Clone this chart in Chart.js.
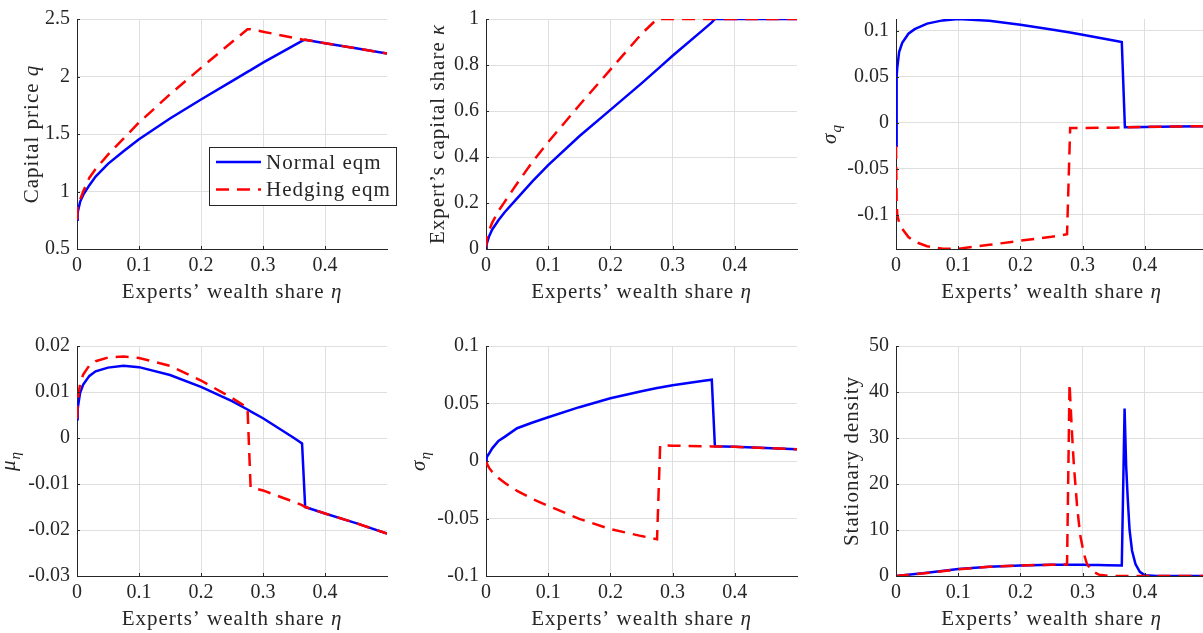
<!DOCTYPE html>
<html>
<head>
<meta charset="utf-8">
<script src="https://cdn.jsdelivr.net/npm/chart.js@4.4.0/dist/chart.umd.min.js"></script>
<style>
  html, body { margin: 0; padding: 0; background: #fff; overflow: hidden; }
  #wrap { position: relative; width: 1203px; height: 633px; overflow: hidden; }
  #wrap canvas { position: absolute; }
</style>
</head>
<body>
<div id="wrap"></div>
<script>
// Experts' wealth share grid (shared by the first five panels)
const eta = [0, 0.001, 0.002, 0.005, 0.01, 0.02, 0.03, 0.05, 0.075, 0.1, 0.15, 0.2, 0.25, 0.275, 0.28, 0.3, 0.35, 0.363, 0.368, 0.4, 0.45, 0.5];

// Capital price q
const qNormal  = [0.755, 0.81, 0.84, 0.91, 0.97, 1.055, 1.13, 1.24, 1.35, 1.455, 1.635, 1.8, 1.96, 2.04, 2.055, 2.12, 2.27, 2.31, 2.32, 2.29, 2.245, 2.2];
const qHedging = [0.755, 0.87, 0.89, 0.93, 1.0, 1.12, 1.195, 1.32, 1.46, 1.6, 1.845, 2.075, 2.3, 2.41, 2.41, 2.39, 2.335, 2.322, 2.32, 2.29, 2.245, 2.2];

// Expert's capital share kappa
const kappaNormal  = [0, 0.02, 0.03, 0.055, 0.085, 0.125, 0.16, 0.22, 0.295, 0.365, 0.49, 0.605, 0.72, 0.78, 0.792, 0.84, 0.955, 0.985, 1, 1, 1, 1];
const kappaHedging = [0, 0.04, 0.055, 0.08, 0.115, 0.165, 0.205, 0.285, 0.38, 0.465, 0.625, 0.78, 0.935, 1, 1, 1, 1, 1, 1, 1, 1, 1];

// sigma_q
const sigQNormal  = [-0.025, 0.05, 0.06, 0.077, 0.087, 0.097, 0.102, 0.108, 0.1115, 0.113, 0.111, 0.1068, 0.1015, 0.0988, 0.0983, 0.0958, 0.0897, 0.088, -0.0046, -0.0043, -0.0039, -0.0035];
const sigQHedging = [-0.025, -0.085, -0.1, -0.108, -0.115, -0.124, -0.129, -0.134, -0.1368, -0.1367, -0.1325, -0.128, -0.1237, -0.121, -0.0055, -0.0054, -0.0052, -0.005, -0.0046, -0.0043, -0.0039, -0.0035];

// mu_eta
const muNormal  = [0.0041, 0.0062, 0.0072, 0.0098, 0.0116, 0.0135, 0.0145, 0.0153, 0.0157, 0.0154, 0.0137, 0.0111, 0.008, 0.0062, 0.0058, 0.0043, 0.0, -0.0012, -0.015, -0.0164, -0.0185, -0.0208];
const muHedging = [0.0042, 0.0075, 0.009, 0.0118, 0.0138, 0.0158, 0.0167, 0.0175, 0.0177, 0.0174, 0.0157, 0.0125, 0.0087, 0.0066, -0.0107, -0.0114, -0.0139, -0.0146, -0.015, -0.0164, -0.0185, -0.0208];

// sigma_eta
const sigEtaNormal  = [0, 0.0025, 0.004, 0.0065, 0.011, 0.0175, 0.021, 0.0285, 0.0335, 0.038, 0.0468, 0.0545, 0.0607, 0.0634, 0.0639, 0.0658, 0.0697, 0.0707, 0.0128, 0.0123, 0.0113, 0.0102];
const sigEtaHedging = [0, -0.0015, -0.003, -0.006, -0.0095, -0.0148, -0.019, -0.026, -0.033, -0.039, -0.0503, -0.0592, -0.0653, -0.068, 0.0135, 0.0133, 0.0128, 0.0127, 0.0127, 0.0123, 0.0113, 0.0102];

// Stationary density (finer grid around the two spikes)
const etaDens = [0, 0.05, 0.1, 0.15, 0.2, 0.25, 0.275, 0.279, 0.283, 0.286, 0.291, 0.296, 0.302, 0.307, 0.315, 0.326, 0.34, 0.363, 0.3675, 0.37, 0.3725, 0.3755, 0.3795, 0.385, 0.392, 0.4, 0.42, 0.5];
const densNormal  = [0, 0.7, 1.5, 2.0, 2.3, 2.45, 2.45, 2.45, 2.44, 2.44, 2.43, 2.43, 2.42, 2.41, 2.4, 2.38, 2.35, 2.3, 36.4, 24, 17, 10, 5.5, 2.6, 0.9, 0.15, 0, 0];
const densHedging = [0, 0.65, 1.45, 2.0, 2.3, 2.45, 2.5, 41.8, 31, 24, 15.4, 9, 4.9, 2.6, 1.1, 0.3, 0.05, 0, 0, 0, 0, 0, 0, 0, 0, 0, 0, 0];

// Tick labels
const xTicks = [0, 0.1, 0.2, 0.3, 0.4];
const qTicks = [0.5, 1, 1.5, 2, 2.5];
const kappaTicks = [0, 0.2, 0.4, 0.6, 0.8, 1];
const sigQTicks = [-0.1, -0.05, 0, 0.05, 0.1];
const muTicks = [-0.03, -0.02, -0.01, 0, 0.01, 0.02];
const sigEtaTicks = [-0.1, -0.05, 0, 0.05, 0.1];
const densTicks = [0, 10, 20, 30, 40, 50];

const seriesNames = ['Normal eqm', 'Hedging eqm'];
const xTitle = [['Experts\u2019 wealth share ', ''], ['\u03b7', 'italic']];

const FONT = '"Liberation Serif", "Times New Roman", serif';
const AXIS = '#262626';
const GRID = '#dfdfdf';
Chart.defaults.font.family = FONT;

const panels = [
  { left: 77, top: 13, w: 310, x: eta, normal: qNormal, hedging: qHedging, yMin: 0.5, yMax: 2.5, yTicks: qTicks,
    yTitle: [['Capital price ', ''], ['q', 'italic']], yTitleX: 39, legend: true },
  { left: 486, top: 13, w: 311, x: eta, normal: kappaNormal, hedging: kappaHedging, yMin: 0, yMax: 1, yTicks: kappaTicks,
    yTitle: [['Expert\u2019s capital share ', ''], ['\u03ba', 'italic']], yTitleX: 42 },
  { left: 896, top: 13, w: 311, x: eta, normal: sigQNormal, hedging: sigQHedging, yMin: -0.137, yMax: 0.113, yTicks: sigQTicks,
    yTitle: [['\u03c3', 'italic'], ['q', 'italic', 'sub']], yTitleX: 60 },
  { left: 77, top: 340, w: 310, x: eta, normal: muNormal, hedging: muHedging, yMin: -0.03, yMax: 0.02, yTicks: muTicks,
    yTitle: [['\u03bc', 'italic'], ['\u03b7', 'italic', 'sub']], yTitleX: 62 },
  { left: 486, top: 340, w: 311, x: eta, normal: sigEtaNormal, hedging: sigEtaHedging, yMin: -0.1, yMax: 0.1, yTicks: sigEtaTicks,
    yTitle: [['\u03c3', 'italic'], ['\u03b7', 'italic', 'sub']], yTitleX: 61 },
  { left: 896, top: 340, w: 311, x: etaDens, normal: densNormal, hedging: densHedging, yMin: 0, yMax: 50, yTicks: densTicks,
    yTitle: [['Stationary density', '']], yTitleX: 38 }
];

// draw a label made of normal / italic / subscript pieces, centred at (0,0)
function drawRich(ctx, segs, size) {
  const fontOf = s => (s[1] || '') + ' ' + (s[2] === 'sub' ? Math.round(size * 0.7) : size) + 'px ' + FONT;
  ctx.letterSpacing = '1px';
  let total = 0;
  segs.forEach(s => { ctx.font = fontOf(s); total += ctx.measureText(s[0]).width; });
  let x = -total / 2;
  ctx.textAlign = 'left';
  ctx.textBaseline = 'alphabetic';
  segs.forEach(s => {
    ctx.font = fontOf(s);
    ctx.fillText(s[0], x, s[2] === 'sub' ? size * 0.25 : 0);
    x += ctx.measureText(s[0]).width;
  });
  ctx.letterSpacing = '0px';
}

const decorPlugin = {
  id: 'decor',
  afterDraw(chart, args, opts) {
    const ctx = chart.ctx, a = chart.chartArea, p = opts.panel;
    const xs = chart.scales.x, ys = chart.scales.y;
    ctx.save();
    // inward tick marks
    ctx.strokeStyle = AXIS;
    ctx.lineWidth = 1;
    ctx.beginPath();
    xTicks.forEach(v => { const px = Math.round(xs.getPixelForValue(v)) + 0.5; ctx.moveTo(px, a.bottom); ctx.lineTo(px, a.bottom - 3); });
    p.yTicks.forEach(v => { const py = Math.round(ys.getPixelForValue(v)) + 0.5; ctx.moveTo(a.left, py); ctx.lineTo(a.left + 3, py); });
    ctx.stroke();

    ctx.fillStyle = AXIS;
    // x title
    ctx.save();
    ctx.translate((a.left + a.right) / 2, a.bottom + 49);
    drawRich(ctx, xTitle, 21);
    ctx.restore();
    // y title
    ctx.save();
    ctx.translate(a.left - p.yTitleX, (a.top + a.bottom) / 2);
    ctx.rotate(-Math.PI / 2);
    drawRich(ctx, p.yTitle, 21);
    ctx.restore();

    if (p.legend) {
      const bx = a.left + 132, by = a.top + 128, bw = 187, bh = 58;
      ctx.fillStyle = '#fff';
      ctx.fillRect(bx, by, bw, bh);
      ctx.strokeStyle = AXIS;
      ctx.strokeRect(bx + 0.5, by + 0.5, bw, bh);
      chart.data.datasets.forEach((ds, i) => {
        const ry = by + 15 + i * 27.5;
        ctx.strokeStyle = ds.borderColor;
        ctx.lineWidth = ds.borderWidth;
        ctx.setLineDash(ds.borderDash || []);
        ctx.beginPath();
        ctx.moveTo(bx + 7, ry);
        ctx.lineTo(bx + 52, ry);
        ctx.stroke();
        ctx.setLineDash([]);
        ctx.fillStyle = AXIS;
        ctx.font = '21px ' + FONT;
        ctx.letterSpacing = '1px';
        ctx.textAlign = 'left';
        ctx.textBaseline = 'middle';
        ctx.fillText(ds.label, bx + 57, ry + 1);
        ctx.letterSpacing = '0px';
      });
    }
    ctx.restore();
  }
};

const wrap = document.getElementById('wrap');

function makePanel(p) {
  const yAxisW = 77, padTop = 13, padRight = 16, xAxisH = 57, areaH = 236;
  const cw = yAxisW + p.w + padRight, ch = padTop + areaH + xAxisH;
  const canvas = document.createElement('canvas');
  canvas.width = cw;
  canvas.height = ch;
  canvas.style.left = (p.left - yAxisW) + 'px';
  canvas.style.top = (p.top - padTop) + 'px';
  canvas.style.width = cw + 'px';
  canvas.style.height = ch + 'px';
  wrap.appendChild(canvas);

  const tickFont = { family: FONT, size: 20 };
  new Chart(canvas.getContext('2d'), {
    type: 'line',
    data: {
      datasets: [{
        label: seriesNames[0],
        data: p.x.map((x, i) => ({ x: x, y: p.normal[i] })),
        borderColor: '#0000ff',
        borderWidth: 2.5,
        pointRadius: 0,
        tension: 0,
        order: 1
      }, {
        label: seriesNames[1],
        data: p.x.map((x, i) => ({ x: x, y: p.hedging[i] })),
        borderColor: '#ff0000',
        borderWidth: 2.5,
        borderDash: [13, 8],
        pointRadius: 0,
        tension: 0,
        order: 0
      }]
    },
    options: {
      responsive: false,
      animation: false,
      devicePixelRatio: 1,
      layout: { padding: { top: padTop, right: padRight, left: 0, bottom: 0 } },
      scales: {
        x: {
          type: 'linear',
          min: 0,
          max: 0.5,
          afterBuildTicks: s => { s.ticks = xTicks.map(v => ({ value: v })); },
          afterFit: s => { s.height = xAxisH; },
          grid: { color: GRID, drawTicks: false },
          border: { display: true, color: AXIS, width: 1 },
          ticks: { font: tickFont, color: AXIS, padding: 5, maxRotation: 0, autoSkip: false, callback: v => String(v) }
        },
        y: {
          min: p.yMin,
          max: p.yMax,
          afterBuildTicks: s => { s.ticks = p.yTicks.map(v => ({ value: v })); },
          afterFit: s => { s.width = yAxisW; },
          grid: { color: GRID, drawTicks: false },
          border: { display: true, color: AXIS, width: 1 },
          ticks: { font: tickFont, color: AXIS, padding: 7, autoSkip: false, callback: v => String(v) }
        }
      },
      plugins: {
        legend: { display: false },
        tooltip: { enabled: false },
        decor: { panel: p }
      }
    },
    plugins: [decorPlugin]
  });
}

panels.forEach(makePanel);
</script>
</body>
</html>
